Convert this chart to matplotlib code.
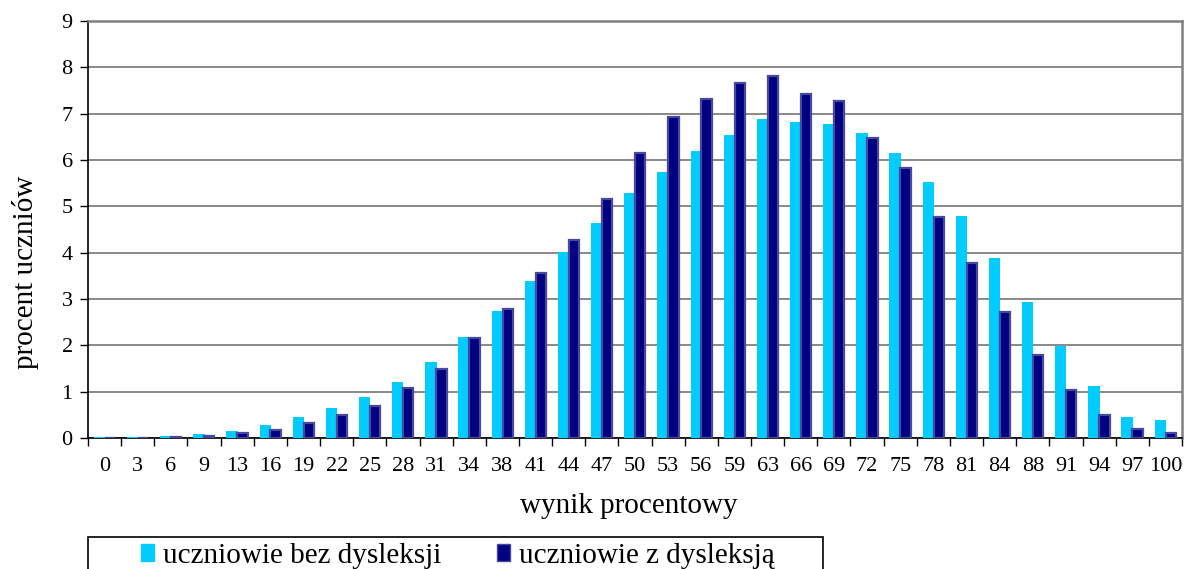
import numpy as np
import matplotlib.pyplot as plt
from matplotlib.patches import Patch, Rectangle

# wynik procentowy (kategorie osi x)
wyniki = ['0', '3', '6', '9', '13', '16', '19', '22', '25', '28', '31', '34', '38',
          '41', '44', '47', '50', '53', '56', '59', '63', '66', '69', '72', '75',
          '78', '81', '84', '88', '91', '94', '97', '100']

# procent uczniow bez dysleksji
bez_dysleksji = [0.02, 0.02, 0.04, 0.08, 0.15, 0.28, 0.45, 0.65, 0.88, 1.2, 1.65,
                 2.18, 2.75, 3.38, 4.02, 4.63, 5.28, 5.75, 6.2, 6.53, 6.88, 6.83,
                 6.77, 6.58, 6.15, 5.52, 4.8, 3.88, 2.93, 1.98, 1.13, 0.45, 0.38]

# procent uczniow z dysleksja
z_dysleksja = [0.0, 0.0, 0.03, 0.05, 0.1, 0.17, 0.32, 0.5, 0.7, 1.08, 1.5,
               2.15, 2.78, 3.57, 4.27, 5.16, 6.15, 6.93, 7.32, 7.67, 7.82, 7.43,
               7.27, 6.48, 5.82, 4.78, 3.78, 2.72, 1.8, 1.03, 0.5, 0.2, 0.1]

plt.rcParams['font.family'] = ['Liberation Serif', 'DejaVu Serif']

W, H = 1184, 569
fig = plt.figure(figsize=(W / 100, H / 100), dpi=100)
ax = fig.add_axes([88/W, 1 - 438/H, (1182 - 88)/W, (438 - 21)/H])

x = np.arange(len(wyniki))
jasny = '#00CCFF'
ciemny = '#000080'
obwodka = '#4848a0'

ax.bar(x - 0.155, bez_dysleksji, width=0.34, color=jasny, zorder=3)
ax.bar(x + 0.16, z_dysleksja, width=0.31, color=ciemny,
       edgecolor=obwodka, linewidth=1.6, zorder=4)

ax.set_xlim(-0.5, len(wyniki) - 0.5)
ax.set_ylim(0, 9)
ax.set_yticks(range(0, 10))

# etykiety pod kategoriami, kreski pomiedzy nimi
ax.set_xticks(x)
ax.set_xticklabels(wyniki, fontsize=16)
ax.set_xticks(np.arange(-0.5, len(wyniki)), minor=True)
ax.tick_params(axis='x', which='major', length=0, pad=14)
ax.tick_params(axis='x', which='minor', length=6, width=1, color='black')
ax.tick_params(axis='y', length=6, width=1, labelsize=16, pad=5)

ax.grid(axis='y', color='#808080', linewidth=1.3, zorder=0)

for s in ['top', 'right']:
    ax.spines[s].set_color('#808080')
    ax.spines[s].set_linewidth(1.8)
ax.spines['left'].set_linewidth(1.2)
ax.spines['bottom'].set_linewidth(1.2)

ax.set_xlabel('wynik procentowy', fontsize=21)
ax.xaxis.set_label_coords((629 - 88) / 1094, -(493 - 438) / 417)
ax.set_ylabel('procent uczniów', fontsize=21, va='center')
ax.yaxis.set_label_coords(-(88 - 26) / 1094, (438 - 272) / 417)

# ramka legendy (ucieta dolna krawedzia obrazka)
fig.patches.append(Rectangle((88/W, 1 - 600/H), (823 - 88)/W, (600 - 537)/H,
                             transform=fig.transFigure, fill=False,
                             edgecolor='black', linewidth=1.2))

uchwyty = [Patch(facecolor=jasny, edgecolor=jasny),
           Patch(facecolor=ciemny, edgecolor=obwodka)]
leg = fig.legend(uchwyty, ['uczniowie bez dysleksji', 'uczniowie z dysleksją'],
                 loc='center left', bbox_to_anchor=(141/W, 1 - 556/H),
                 ncol=2, fontsize=21, frameon=False,
                 handlelength=0.45, handleheight=0.55, handletextpad=0.3,
                 columnspacing=1.9, borderpad=0, borderaxespad=0)

fig.savefig('out.png', dpi=100)
